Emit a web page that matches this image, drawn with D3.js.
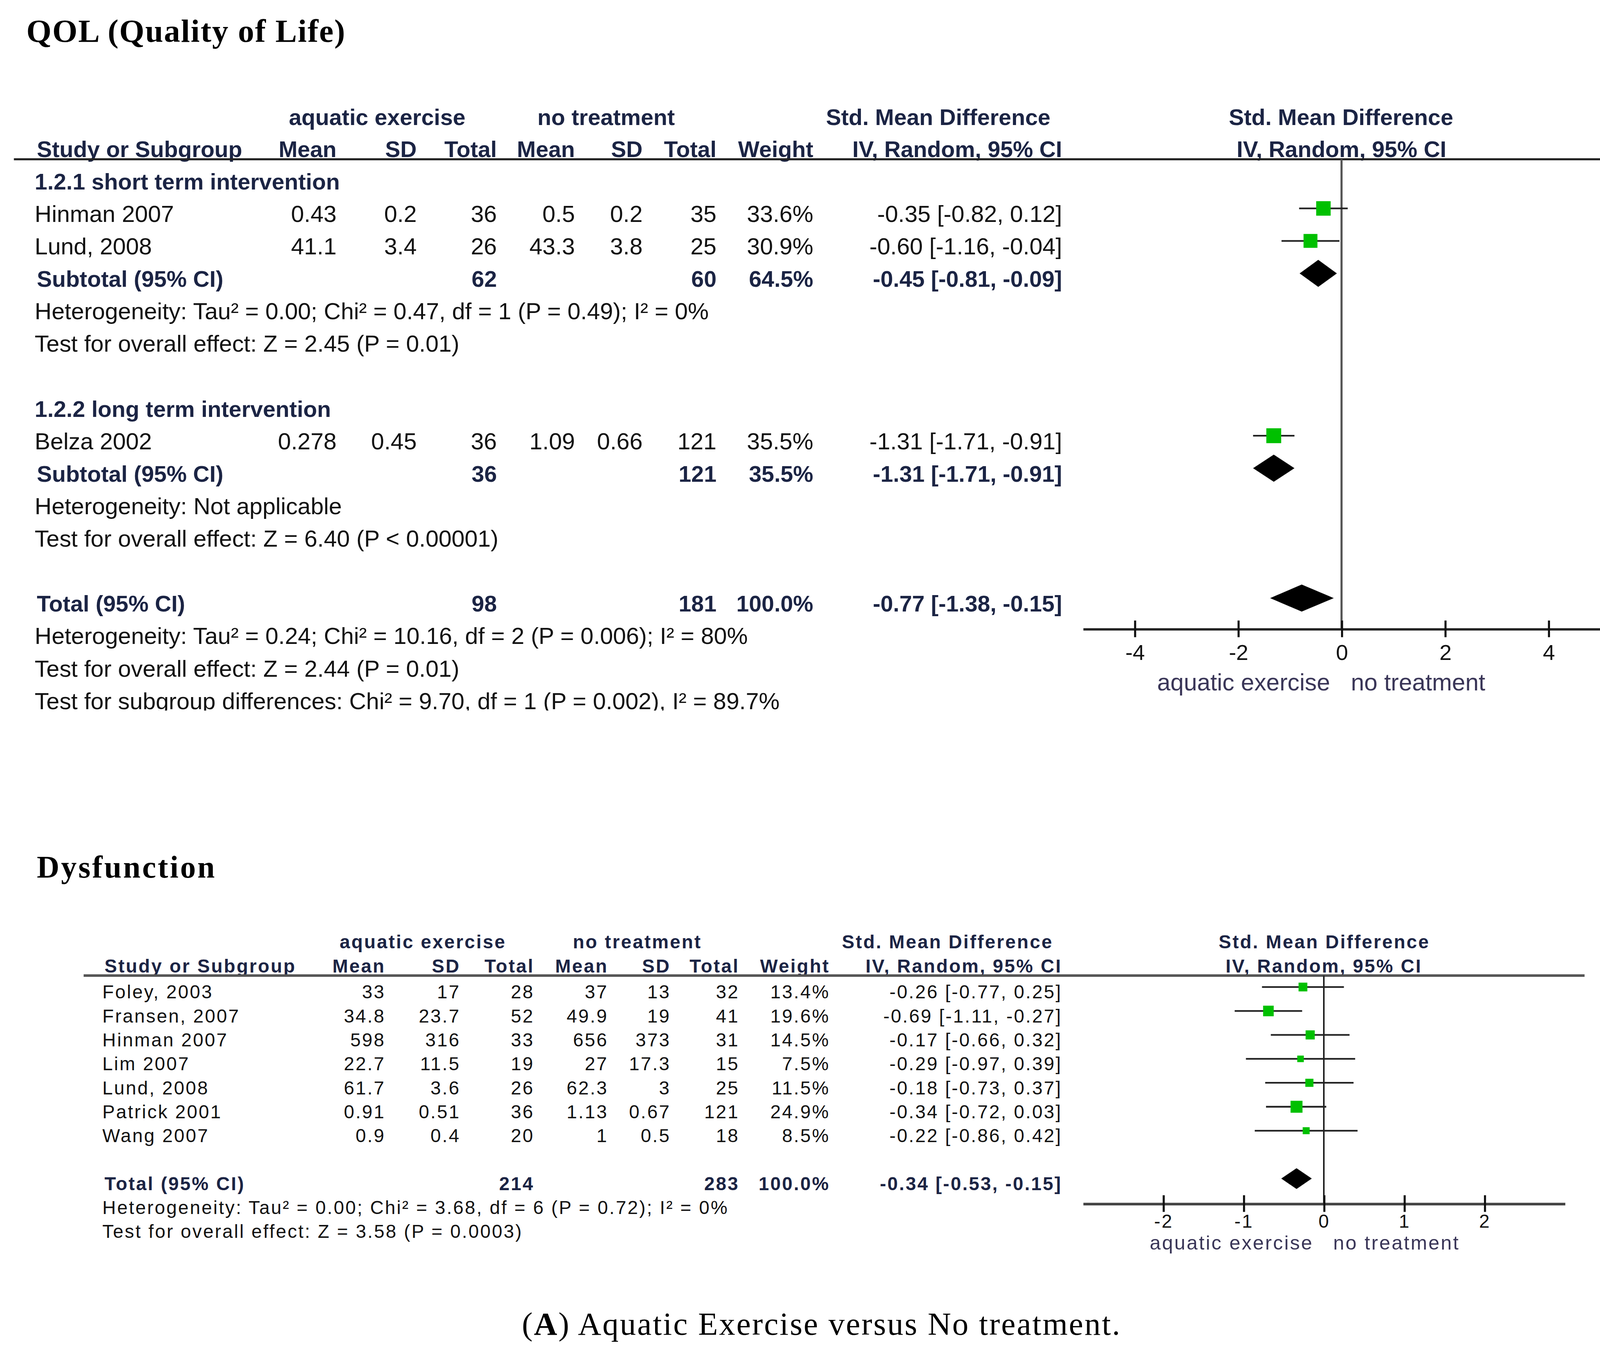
<!DOCTYPE html>
<html>
<head>
<meta charset="utf-8">
<script src="https://cdn.jsdelivr.net/npm/d3@7"></script>
<style>
  body { margin: 0; background: #fff; }
</style>
</head>
<body>
<script>
// ---- QOL panel data ----
const qolStudy = ["Hinman 2007", "Lund, 2008", "Belza 2002"];
const qolGroupOf = [0, 0, 1];
const qolMeanA = ["0.43", "41.1", "0.278"];
const qolSdA = ["0.2", "3.4", "0.45"];
const qolTotalA = [36, 26, 36];
const qolMeanB = ["0.5", "43.3", "1.09"];
const qolSdB = ["0.2", "3.8", "0.66"];
const qolTotalB = [35, 25, 121];
const qolWeight = [33.6, 30.9, 35.5];
const qolSmd = [-0.35, -0.60, -1.31];
const qolLow = [-0.82, -1.16, -1.71];
const qolHigh = [0.12, -0.04, -0.91];

const qolGroups = ["1.2.1 short term intervention", "1.2.2 long term intervention"];
const qolGroupTotalA = [62, 36];
const qolGroupTotalB = [60, 121];
const qolGroupWeight = [64.5, 35.5];
const qolGroupSmd = [-0.45, -1.31];
const qolGroupLow = [-0.81, -1.71];
const qolGroupHigh = [-0.09, -0.91];
const qolGroupHet = ["Heterogeneity: Tau² = 0.00; Chi² = 0.47, df = 1 (P = 0.49); I² = 0%",
                     "Heterogeneity: Not applicable"];
const qolGroupTest = ["Test for overall effect: Z = 2.45 (P = 0.01)",
                      "Test for overall effect: Z = 6.40 (P < 0.00001)"];

const qolOverallN = [98, 181];
const qolOverallWeight = 100.0;
const qolOverallCI = [-0.77, -1.38, -0.15];
const qolOverallNotes = ["Heterogeneity: Tau² = 0.24; Chi² = 10.16, df = 2 (P = 0.006); I² = 80%",
                         "Test for overall effect: Z = 2.44 (P = 0.01)",
                         "Test for subgroup differences: Chi² = 9.70, df = 1 (P = 0.002), I² = 89.7%"];
const qolTicks = [-4, -2, 0, 2, 4];

// ---- Dysfunction panel data ----
const dysStudy = ["Foley, 2003", "Fransen, 2007", "Hinman 2007", "Lim 2007", "Lund, 2008", "Patrick 2001", "Wang 2007"];
const dysMeanA = ["33", "34.8", "598", "22.7", "61.7", "0.91", "0.9"];
const dysSdA = ["17", "23.7", "316", "11.5", "3.6", "0.51", "0.4"];
const dysTotalA = [28, 52, 33, 19, 26, 36, 20];
const dysMeanB = ["37", "49.9", "656", "27", "62.3", "1.13", "1"];
const dysSdB = ["13", "19", "373", "17.3", "3", "0.67", "0.5"];
const dysTotalB = [32, 41, 31, 15, 25, 121, 18];
const dysWeight = [13.4, 19.6, 14.5, 7.5, 11.5, 24.9, 8.5];
const dysSmd = [-0.26, -0.69, -0.17, -0.29, -0.18, -0.34, -0.22];
const dysLow = [-0.77, -1.11, -0.66, -0.97, -0.73, -0.72, -0.86];
const dysHigh = [0.25, -0.27, 0.32, 0.39, 0.37, 0.03, 0.42];

const dysOverallN = [214, 283];
const dysOverallWeight = 100.0;
const dysOverallCI = [-0.34, -0.53, -0.15];
const dysOverallNotes = ["Heterogeneity: Tau² = 0.00; Chi² = 3.68, df = 6 (P = 0.72); I² = 0%",
                         "Test for overall effect: Z = 3.58 (P = 0.0003)"];
const dysTicks = [-2, -1, 0, 1, 2];

const groupHeads = ["aquatic exercise", "no treatment", "Std. Mean Difference", "Std. Mean Difference"];
const colHeads = ["Mean", "SD", "Total", "Mean", "SD", "Total", "Weight", "IV, Random, 95% CI"];
const sideLabels = ["aquatic exercise", "no treatment"];

// ---- drawing ----
const W = 1568, H = 1312;
const TXT = "#111", BOLD = "#1b2444", SIDE = "#3a3658", GREEN = "#00c000";
const SANS = "'Liberation Sans', Arial, sans-serif";
const SERIF = "'Liberation Serif', 'Times New Roman', serif";

const svg = d3.select("body").append("svg")
  .attr("width", 4180).attr("height", 3496)
  .attr("viewBox", `0 0 ${W} ${H}`)
  .style("display", "block")
  .style("background", "#fff");

const fix2 = d => d.toFixed(2);
const pct = d => d3.format(".1f")(d) + "%";
const ciText = (m, l, h) => `${fix2(m)} [${fix2(l)}, ${fix2(h)}]`;

function text(g, x, y, s, cfg, opt = {}) {
  const size = opt.size || (opt.bold ? cfg.boldFont : cfg.font);
  return g.append("text")
    .attr("x", x).attr("y", y)
    .attr("text-anchor", opt.anchor || "start")
    .attr("font-family", opt.family || SANS)
    .attr("font-size", size)
    .attr("font-weight", opt.bold ? "bold" : "normal")
    .attr("letter-spacing", opt.ls != null ? opt.ls : cfg.ls)
    .attr("fill", opt.fill || (opt.bold ? BOLD : TXT))
    .text(s);
}

function drawPanel(cfg, rows) {
  const g = svg.append("g");
  const y = cfg.rowY;
  const x = cfg.x;

  // headers
  cfg.groupCenters.forEach((cx, i) =>
    text(g, cx, cfg.head1Y, groupHeads[i], cfg, {anchor: "middle", bold: true}));
  text(g, cfg.nameX + 2, cfg.head2Y, "Study or Subgroup", cfg, {bold: true});
  colHeads.forEach((h, i) =>
    text(g, cfg.cols[i], cfg.head2Y, h, cfg, {anchor: "end", bold: true}));
  text(g, x(0), cfg.head2Y, "IV, Random, 95% CI", cfg, {anchor: "middle", bold: true});

  g.append("line")
    .attr("x1", cfg.ruleX[0]).attr("x2", cfg.ruleX[1])
    .attr("y1", cfg.ruleY).attr("y2", cfg.ruleY)
    .attr("stroke", cfg.ruleColor).attr("stroke-width", cfg.ruleW);

  // zero line
  g.append("line")
    .attr("x1", x(0)).attr("x2", x(0))
    .attr("y1", cfg.ruleY).attr("y2", cfg.axisY)
    .attr("stroke", cfg.zeroColor).attr("stroke-width", cfg.zeroW);

  // rows
  rows.forEach(r => {
    const by = y(r.i);
    const bold = r.type !== "study" && r.type !== "note";
    if (r.type === "head" || r.type === "note") {
      const t = text(g, cfg.nameX, by, r.label, cfg, {bold: r.type === "head"});
      if (r.clip) t.attr("clip-path", "url(#" + r.clip + ")");
      return;
    }
    text(g, cfg.nameX + (bold ? 2 : 0), by, r.label, cfg, {bold});
    const vals = [r.meanA, r.sdA, r.totA, r.meanB, r.sdB, r.totB, pct(r.w), ciText(r.m, r.lo, r.hi)];
    vals.forEach((v, k) => {
      if (v === null || v === undefined) return;
      text(g, cfg.cols[k], by, v, cfg, {anchor: "end", bold});
    });

    const my = by - cfg.markOff;
    if (r.type === "study") {
      g.append("line")
        .attr("x1", x(r.lo)).attr("x2", x(r.hi))
        .attr("y1", my).attr("y2", my)
        .attr("stroke", "#222").attr("stroke-width", cfg.ciW);
      const s = cfg.k * Math.sqrt(r.w);
      g.append("rect")
        .attr("x", x(r.m) - s / 2).attr("y", my - s / 2)
        .attr("width", s).attr("height", s)
        .attr("fill", GREEN);
    } else {
      const h = cfg.diamondH / 2;
      g.append("path")
        .attr("d", `M${x(r.lo)},${my} L${x(r.m)},${my - h} L${x(r.hi)},${my} L${x(r.m)},${my + h} Z`)
        .attr("fill", "#000");
    }
  });

  // axis
  const axis = d3.axisBottom(x)
    .tickValues(cfg.ticks)
    .tickFormat(d => String(d))
    .tickSizeOuter(0)
    .tickSizeInner(cfg.tickLen);
  const ax = g.append("g")
    .attr("transform", `translate(0,${cfg.axisY})`)
    .call(axis);
  ax.select(".domain").attr("stroke", cfg.axisColor).attr("stroke-width", cfg.axisW);
  ax.selectAll(".tick line")
    .attr("y1", -cfg.tickLen).attr("y2", cfg.tickLen)
    .attr("stroke", "#111").attr("stroke-width", cfg.tickW);
  ax.selectAll(".tick text")
    .attr("y", cfg.tickLblDy).attr("dy", 0)
    .attr("font-family", SANS).attr("font-size", cfg.tickFont)
    .attr("letter-spacing", cfg.ls)
    .attr("fill", TXT);

  text(g, x(0) - cfg.sideGap[0], cfg.sideY, sideLabels[0], cfg, {anchor: "end", fill: SIDE, size: cfg.sideFont});
  text(g, x(0) + cfg.sideGap[1], cfg.sideY, sideLabels[1], cfg, {anchor: "start", fill: SIDE, size: cfg.sideFont});
}

// ---- build QOL rows ----
const qolRows = [];
let ri = 0;
qolGroups.forEach((name, gi) => {
  qolRows.push({type: "head", i: ri++, label: name});
  qolStudy.forEach((s, k) => {
    if (qolGroupOf[k] !== gi) return;
    qolRows.push({type: "study", i: ri++, label: s, meanA: qolMeanA[k], sdA: qolSdA[k], totA: qolTotalA[k],
      meanB: qolMeanB[k], sdB: qolSdB[k], totB: qolTotalB[k], w: qolWeight[k],
      m: qolSmd[k], lo: qolLow[k], hi: qolHigh[k]});
  });
  qolRows.push({type: "sub", i: ri++, label: "Subtotal (95% CI)", totA: qolGroupTotalA[gi], totB: qolGroupTotalB[gi],
    w: qolGroupWeight[gi], m: qolGroupSmd[gi], lo: qolGroupLow[gi], hi: qolGroupHigh[gi]});
  qolRows.push({type: "note", i: ri++, label: qolGroupHet[gi]});
  qolRows.push({type: "note", i: ri++, label: qolGroupTest[gi]});
  ri++;
});
qolRows.push({type: "total", i: ri++, label: "Total (95% CI)", totA: qolOverallN[0], totB: qolOverallN[1],
  w: qolOverallWeight, m: qolOverallCI[0], lo: qolOverallCI[1], hi: qolOverallCI[2]});
qolOverallNotes.forEach((n, k) =>
  qolRows.push({type: "note", i: ri++, label: n, clip: k === 2 ? "cutLast" : null}));

// ---- build Dysfunction rows ----
const dysRows = dysStudy.map((s, k) => ({type: "study", i: k, label: s, meanA: dysMeanA[k], sdA: dysSdA[k],
  totA: dysTotalA[k], meanB: dysMeanB[k], sdB: dysSdB[k], totB: dysTotalB[k], w: dysWeight[k],
  m: dysSmd[k], lo: dysLow[k], hi: dysHigh[k]}));
dysRows.push({type: "total", i: dysStudy.length + 1, label: "Total (95% CI)", totA: dysOverallN[0], totB: dysOverallN[1],
  w: dysOverallWeight, m: dysOverallCI[0], lo: dysOverallCI[1], hi: dysOverallCI[2]});
dysOverallNotes.forEach((n, k) => dysRows.push({type: "note", i: dysStudy.length + 2 + k, label: n}));

// the source scan cuts the last QOL line just under its baseline
svg.append("defs").append("clipPath").attr("id", "cutLast")
  .append("rect").attr("x", 0).attr("y", 640).attr("width", 900).attr("height", 42.5);

// ---- titles ----
text(svg, 25, 40, "QOL (Quality of Life)", {}, {family: SERIF, size: 31, bold: true, ls: 0.8, fill: "#000"});
text(svg, 35, 843, "Dysfunction", {}, {family: SERIF, size: 30, bold: true, ls: 1.6, fill: "#000"});

drawPanel({
  font: 22.5, boldFont: 21.8, ls: 0, nameX: 33,
  cols: [323, 400, 477, 552, 617, 688, 781, 1020],
  rowY: d3.scaleLinear().domain([0, 16]).range([182, 681]),
  head1Y: 120, head2Y: 151, ruleY: 153, ruleX: [13, 1555], ruleColor: "#222", ruleW: 2,
  groupCenters: [362, 582, 901, 1288],
  x: d3.scaleLinear().domain([-5, 5]).range([1040, 1537]),
  ticks: qolTicks, axisY: 604, axisColor: "#222", axisW: 2.2,
  zeroColor: "#555", zeroW: 2,
  tickLen: 8, tickW: 2, tickFont: 21, tickLblDy: 30,
  markOff: 13, diamondH: 26, k: 2.4, ciW: 1.6,
  sideY: 663, sideGap: [11, 9], sideFont: 23
}, qolRows);

drawPanel({
  font: 18, boldFont: 18, ls: 1.25, nameX: 98,
  cols: [370, 442, 513, 584, 644, 710, 797, 1020],
  rowY: d3.scaleLinear().domain([0, 10]).range([959, 1189]),
  head1Y: 911, head2Y: 934, ruleY: 937, ruleX: [80, 1522], ruleColor: "#555", ruleW: 2.4,
  groupCenters: [406, 612, 910, 1272],
  x: d3.scaleLinear().domain([-3, 3]).range([1040, 1503]),
  ticks: dysTicks, axisY: 1156, axisColor: "#444", axisW: 2.6,
  zeroColor: "#222", zeroW: 1.5,
  tickLen: 8, tickW: 2, tickFont: 18, tickLblDy: 23,
  markOff: 11, diamondH: 20, k: 2.3, ciW: 1.6,
  sideY: 1200, sideGap: [10, 9], sideFont: 19
}, dysRows);

// ---- caption ----
const cap = svg.append("text")
  .attr("x", 789).attr("y", 1282).attr("text-anchor", "middle")
  .attr("font-family", SERIF).attr("font-size", 31).attr("letter-spacing", 1.2)
  .attr("fill", "#000");
cap.append("tspan").text("(");
cap.append("tspan").attr("font-weight", "bold").text("A");
cap.append("tspan").text(") Aquatic Exercise versus No treatment.");
</script>
</body>
</html>
